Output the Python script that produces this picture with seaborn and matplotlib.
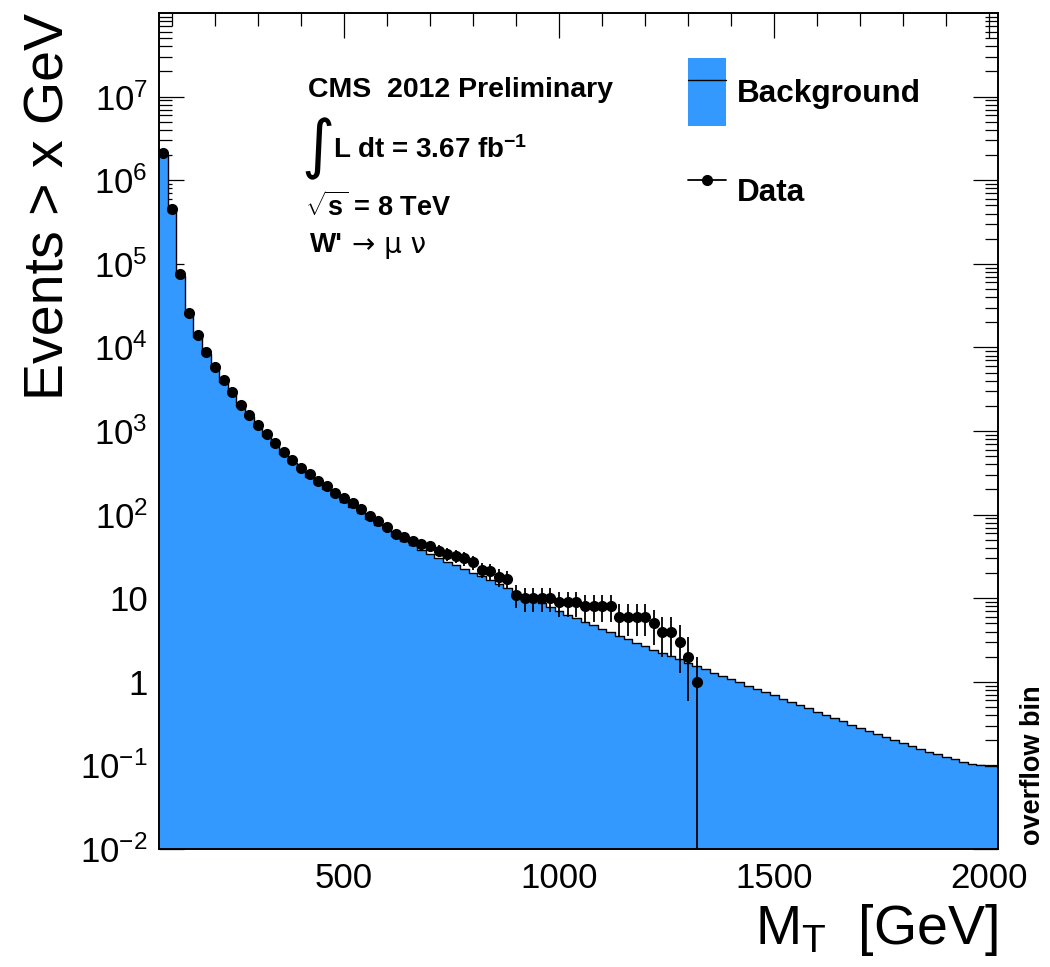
import numpy as np
import pandas as pd
import matplotlib
matplotlib.use("Agg")
import matplotlib.pyplot as plt
import seaborn as sns
from matplotlib.patches import Patch
from matplotlib.lines import Line2D
from matplotlib.ticker import FixedLocator, FixedFormatter, LogLocator, NullFormatter, MultipleLocator

# cumulative background, 20 GeV bins starting at 70 GeV, last bin is the overflow
bin_edges = list(range(70, 2000, 20)) + [2020]
background = [2.0e6, 4.17e5, 7.24e4, 2.45e4, 1.32e4, 8.3e3, 5.5e3, 3.85e3, 2.75e3, 1.97e3,
              1.46e3, 1.11e3, 861, 668, 525, 417, 339, 282, 234, 200,
              168, 143, 122, 104, 88, 76, 65, 56, 48, 43,
              38, 34, 30.5, 27.5, 24.8, 22.4, 20.2, 18.2, 16.4, 14.8,
              13.3, 12.0, 10.8, 9.77, 8.81, 7.76, 7.0, 6.35, 5.77, 5.24,
              4.75, 4.31, 3.92, 3.56, 3.23, 2.93, 2.66, 2.43, 2.22, 2.03,
              1.85, 1.69, 1.55, 1.42, 1.29, 1.18, 1.08, 0.99, 0.90, 0.83,
              0.755, 0.69, 0.63, 0.577, 0.527, 0.482, 0.441, 0.403, 0.368, 0.337,
              0.308, 0.281, 0.257, 0.235, 0.216, 0.20, 0.184, 0.170, 0.158, 0.146,
              0.136, 0.126, 0.118, 0.110, 0.103, 0.100, 0.098]

# cumulative data, thresholds 80..1320 GeV
data_mt = list(range(80, 1340, 20))
data_events = [2140000, 450000, 76400, 26100, 13900, 8790, 5810, 4060, 2920, 2070,
               1540, 1170, 925, 721, 557, 447, 358, 304, 254, 218,
               180, 157, 136, 117, 95, 84, 71, 59, 54, 49,
               45, 42, 37, 34, 32, 30, 27, 22, 21, 18,
               17, 11, 10, 10, 10, 10, 9, 9, 9, 8,
               8, 8, 8, 6, 6, 6, 6, 5, 4, 4,
               3, 2, 1]

y_decades = [-2, -1, 0, 1, 2, 3, 4, 5, 6, 7]
y_labels = ["10$^{\\mathregular{-2}}$", "10$^{\\mathregular{-1}}$", "1", "10",
            "10$^{\\mathregular{2}}$", "10$^{\\mathregular{3}}$", "10$^{\\mathregular{4}}$",
            "10$^{\\mathregular{5}}$", "10$^{\\mathregular{6}}$", "10$^{\\mathregular{7}}$"]

BLUE = "#3399ff"


def main():
    sns.set_style("ticks")
    plt.rcParams["font.family"] = ["Liberation Sans", "DejaVu Sans"]
    plt.rcParams["mathtext.fontset"] = "custom"
    plt.rcParams["mathtext.rm"] = "Liberation Sans"
    plt.rcParams["mathtext.bf"] = "Liberation Sans:bold"
    plt.rcParams["mathtext.it"] = "Liberation Sans:italic"
    for key in ["text.color", "axes.labelcolor", "xtick.color", "ytick.color",
                "xtick.labelcolor", "ytick.labelcolor", "axes.edgecolor"]:
        plt.rcParams[key] = "black"

    fig = plt.figure(figsize=(10.5, 9.67), dpi=100)
    ax = fig.add_axes([0.1514, 0.122, 0.799, 0.8645])
    ax.set_yscale("log")

    centers = np.array(bin_edges[:-1]) + 10
    bg_df = pd.DataFrame({"mt": centers, "events": background})
    sns.histplot(data=bg_df, x="mt", weights="events", bins=bin_edges, element="step",
                 fill=True, color=BLUE, alpha=1, linewidth=0, ax=ax)
    sns.histplot(data=bg_df, x="mt", weights="events", bins=bin_edges, element="step",
                 fill=False, color="black", linewidth=1.0, ax=ax)

    n = np.array(data_events, dtype=float)
    err = np.sqrt(n)
    lower = np.minimum(err, n)
    ax.errorbar(data_mt, n, yerr=[lower, err], fmt="o", color="black",
                markersize=7, elinewidth=1.3, capsize=0, zorder=5)

    ax.set_xlim(70, 2020)
    ax.set_ylim(1e-2, 1e8)

    ax.xaxis.set_major_locator(FixedLocator([500, 1000, 1500, 2000]))
    ax.xaxis.set_minor_locator(MultipleLocator(100))
    ax.yaxis.set_major_locator(FixedLocator([10.0 ** d for d in y_decades]))
    ax.yaxis.set_major_formatter(FixedFormatter(y_labels))
    ax.yaxis.set_minor_locator(LogLocator(base=10, subs=np.arange(2, 10), numticks=30))
    ax.yaxis.set_minor_formatter(NullFormatter())

    ax.tick_params(which="both", direction="in", top=True, right=True, width=0.9,
                   labelsize=25, color="black", labelcolor="black")
    ax.tick_params(which="major", length=18)
    ax.tick_params(which="minor", length=9.5)
    ax.tick_params(axis="x", pad=9)
    ax.tick_params(axis="y", pad=8)
    for s in ax.spines.values():
        s.set_linewidth(1.4)
        s.set_color("black")

    ax.set_xlabel(r"M$_{\mathregular{T}}$  [GeV]", fontsize=40, loc="right")
    ax.xaxis.set_label_coords(1.0, -0.063)
    ax.set_ylabel("Events > x GeV", fontsize=40, loc="top")
    ax.yaxis.set_label_coords(-0.1, 1.0)

    # CMS label block
    ax.text(0.1776, 0.908, "CMS  2012 Preliminary", transform=ax.transAxes,
            fontsize=20.5, fontweight="bold", va="center", ha="left")
    ax.text(0.1895, 0.838, "\u222b", transform=ax.transAxes, fontsize=46,
            family="DejaVu Sans", va="center", ha="center")
    ax.text(0.2074, 0.836, r"L dt = 3.67 fb$^{\mathbf{-1}}$", transform=ax.transAxes,
            fontsize=20, fontweight="bold", va="center", ha="left")
    ax.text(0.174, 0.768, r"$\sqrt{\mathbf{s}}$ = 8 TeV", transform=ax.transAxes,
            fontsize=19.5, fontweight="bold", va="center", ha="left")
    ax.text(0.180, 0.7225, "W'", transform=ax.transAxes,
            fontsize=20, fontweight="bold", va="center", ha="left")
    ax.text(0.2295, 0.7225, "\u2192 \u03bc \u03bd", transform=ax.transAxes,
            fontsize=20, family="DejaVu Sans", va="center", ha="left")

    ax.text(1.042, 0.005, "overflow bin", transform=ax.transAxes, rotation=90,
            fontsize=19.5, fontweight="bold", ha="center", va="bottom")

    handles = [(Patch(facecolor=BLUE, edgecolor="none"), Line2D([], [], color="black", lw=1)),
               Line2D([], [], color="black", marker="o", markersize=7, lw=1.3)]
    ax.legend(handles, ["Background", "Data"], loc="upper left",
              bbox_to_anchor=(0.6305, 0.946), frameon=False, borderpad=0,
              borderaxespad=0, handleheight=2.95, handlelength=1.2,
              handletextpad=0.35, labelspacing=1.0,
              prop={"weight": "bold", "size": 22.7})

    fig.savefig("out.png", dpi=100)


if __name__ == "__main__":
    main()
